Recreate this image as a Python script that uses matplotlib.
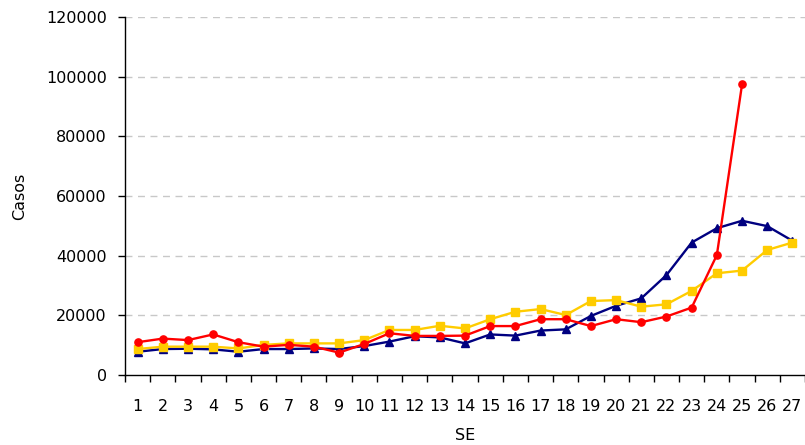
import numpy as np
import matplotlib
matplotlib.use('Agg')
import matplotlib.pyplot as plt
from matplotlib.ticker import FixedLocator, NullFormatter

# semanas epidemiologicas
se = list(range(1, 28))

# casos por serie
casos_azul = [7800, 8700, 8800, 8600, 7800, 8700, 8700, 8900, 8700, 9700,
              11200, 13000, 12600, 10600, 13600, 13200, 14900, 15300, 19800, 23200,
              25700, 33500, 44400, 49200, 51700, 49900, 45000]
casos_amarelo = [8700, 9500, 9500, 9500, 8900, 10100, 10600, 10600, 10600, 11700,
                 15100, 15100, 16500, 15600, 18700, 21200, 22100, 20100, 24800, 25100,
                 22900, 23700, 28200, 34100, 35000, 41900, 44400]
casos_vermelho = [11000, 12200, 11700, 13600, 11000, 9500, 10100, 9500, 7500, 10400,
                  14000, 13100, 13100, 13200, 16400, 16400, 18700, 18700, 16400, 18700,
                  17700, 19600, 22600, 40200, 97400]

fig = plt.figure(figsize=(8.05, 4.45), dpi=100)
ax = fig.add_axes([0.1553, 0.1573, 0.8447, 0.8045])

ax.plot(se, casos_azul, color='#000080', lw=1.7, marker='^', ms=6, zorder=3)
ax.plot(se, casos_amarelo, color='#FFCC00', lw=1.7, marker='s', ms=5.2, zorder=3)
ax.plot(se[:len(casos_vermelho)], casos_vermelho, color='#FF0000', lw=1.7,
        marker='o', ms=5.2, zorder=4)

ax.set_xlim(0.5, 27.5)
ax.set_ylim(0, 120000)

# grade tracejada
for y in range(20000, 120001, 20000):
    ax.axhline(y, color='#C8C8C8', lw=1, ls=(0, (5, 4)), zorder=1)

ax.set_yticks(range(0, 120001, 20000))
ax.tick_params(axis='y', direction='out', length=5, width=1, pad=8, labelsize=11.5)

# ticks do eixo x entre categorias, rotulos no centro
ax.xaxis.set_major_locator(FixedLocator(np.arange(0.5, 28, 1)))
ax.xaxis.set_major_formatter(NullFormatter())
ax.xaxis.set_minor_locator(FixedLocator(se))
ax.set_xticklabels([str(s) for s in se], minor=True)
ax.tick_params(axis='x', which='major', direction='out', length=5, width=1)
ax.tick_params(axis='x', which='minor', length=0, pad=17, labelsize=11.5)

for s in ['top', 'right']:
    ax.spines[s].set_visible(False)
ax.spines['left'].set_linewidth(1)
ax.spines['bottom'].set_linewidth(1)

ax.set_xlabel('SE', fontsize=11.5, labelpad=10)
ax.set_ylabel('Casos', fontsize=11.5, labelpad=14)

fig.savefig('out.png', dpi=100)
